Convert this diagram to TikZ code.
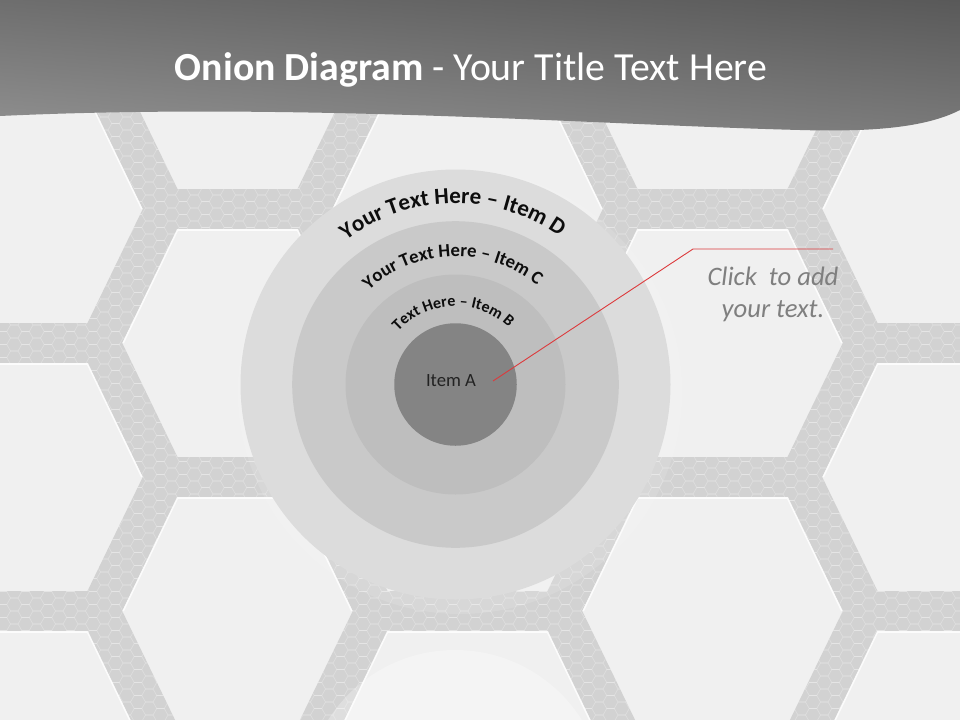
\documentclass[tikz,border=0pt]{standalone}
\usepackage{fontspec}
\setmainfont{Carlito}
\usetikzlibrary{calc,decorations.text,shadings}

\definecolor{tilec}{HTML}{F0F0F0}
\definecolor{barc}{HTML}{D2D2D2}
\definecolor{ringDc}{HTML}{DCDCDC}
\definecolor{ringCc}{HTML}{C9C9C9}
\definecolor{ringBc}{HTML}{BEBEBE}
\definecolor{coreAc}{HTML}{848484}
\definecolor{leaderc}{HTML}{DC3A3C}
\definecolor{hintc}{HTML}{7F7F7F}
\definecolor{labelc}{HTML}{0D0D0D}
\definecolor{itemc}{HTML}{222222}
\definecolor{bnTL}{HTML}{6E6E6E}
\definecolor{bnTR}{HTML}{595959}
\definecolor{bnBL}{HTML}{909090}
\definecolor{bnBR}{HTML}{7A7A7A}

% one bar of the hexagon lattice, as a filled quad (width 40)
\newcommand\barq[4]{%
 ($($(#1,#2)!-20pt!(#3,#4)$)!20pt!90:(#3,#4)$) --
 ($($(#3,#4)!-20pt!(#1,#2)$)!20pt!-90:(#1,#2)$) --
 ($($(#3,#4)!-20pt!(#1,#2)$)!20pt!90:(#1,#2)$) --
 ($($(#1,#2)!-20pt!(#3,#4)$)!20pt!-90:(#3,#4)$) -- cycle }
% six bars of one big hexagon: left x, top edge length, centre y
\newcommand\hexbars[3]{%
 \barq{#1}{#3}{#1+65}{#3-134}
 \barq{#1+65}{#3-134}{#1+65+#2}{#3-134}
 \barq{#1+65+#2}{#3-134}{#1+130+#2}{#3}
 \barq{#1+130+#2}{#3}{#1+65+#2}{#3+134}
 \barq{#1+65+#2}{#3+134}{#1+65}{#3+134}
 \barq{#1+65}{#3+134}{#1}{#3} }
\newcommand\hexlist{-125/160/-59, -125/160/209, -125/160/477, -125/160/745,
 100/145/75, 100/145/343, 100/145/611,
 310/185/-59, 310/185/209, 310/185/477, 310/185/745,
 560/175/75, 560/175/343, 560/175/611,
 800/175/-59, 800/175/209, 800/175/477, 800/175/745}

\tikzset{
  honey/.style={white, opacity=0.25, line width=0.7pt},
  hilite/.style={white, opacity=0.8, line width=1.6pt, line join=miter},
  ring/.style={circle, inner sep=0pt, draw=none},
  arctext/.style={decorate, decoration={text along path, text align=center, text color=labelc, text={#1}}},
  leader/.style={leaderc, line width=0.9pt},
  hint/.style={anchor=base, text=hintc, font=\itshape\fontsize{26.67}{32}\selectfont},
}

\begin{document}
\begin{tikzpicture}[x=1pt, y=-1pt]
\useasboundingbox (0,0) rectangle (960,720);
\clip (0,0) rectangle (960,720);

% background tiles
\fill[tilec] (0,0) rectangle (960,720);

% lattice bars with small honeycomb
\begin{scope}
  \clip \foreach \hx/\hl/\hy in \hexlist { \hexbars{\hx}{\hl}{\hy} };
  \fill[barc] (0,0) rectangle (960,720);
  \foreach \k in {0,...,112}{
    \draw[honey] ({-12+mod(\k,2)*11.25}, {\k*6.5})
      \foreach \i in {0,...,43}{ -- ++(7.5,0) -- ++(3.75,6.5) -- ++(7.5,0) -- ++(3.75,-6.5) };
  }
\end{scope}
% light edges along the upper sides of each tile
\foreach \hx/\hl/\hy in \hexlist {
  \draw[hilite] (\hx+23.2,\hy) -- (\hx+77.5,\hy-113) -- (\hx+52.5+\hl,\hy-113) -- (\hx+106.8+\hl,\hy);
}

% faint background discs
\fill[white, opacity=0.28] (455,800) circle[radius=150];
\fill[white, opacity=0.12] (460,392) circle[radius=222];

% title banner
\shade[upper left=bnTL, upper right=bnTR, lower left=bnBL, lower right=bnBR]
  (0,0) -- (960,0) -- (960,110) .. controls (925,128) and (870,132) .. (800,130)
  .. controls (600,125) and (300,102) .. (0,116) -- cycle;
\node[anchor=base, text=white, font=\fontsize{39.8}{46}\selectfont] (title) at (471,80)
  {\textbf{Onion Diagram} - Your Title Text Here};

% onion rings
\node[ring, fill=ringDc, minimum size=430] (ringD) at (455.5,384.5) {};
\node[ring, fill=ringCc, minimum size=326.6] (ringC) at (455.5,384.5) {};
\node[ring, fill=ringBc, minimum size=220] (ringB) at (455.5,384.5) {};
\node[ring, fill=coreAc, minimum size=122.5] (coreA) at (455.5,384.5) {};

% curved labels
\begin{scope}[y=1pt]
  \coordinate (oc) at (455.5,-384.5);
  \path[arctext={|\bfseries\fontsize{23}{27}\selectfont|Your Text Here – Item D}]
    (oc) ++(176:181) arc[start angle=176, end angle=6, radius=181];
  \path[arctext={|\bfseries\fontsize{18.67}{22}\selectfont|Your Text Here – Item C}]
    (oc) ++(176.5:128) arc[start angle=176.5, end angle=6.5, radius=128];
  \path[arctext={|\bfseries\fontsize{16}{19}\selectfont|Text Here – Item B}]
    (oc) ++(177:78) arc[start angle=177, end angle=7, radius=78];
\end{scope}

\node[text=itemc, font=\fontsize{18.67}{22}\selectfont] (itemA) at (451,381) {Item A};

% leader line and hint text
\coordinate (p0) at (493,381);
\coordinate (p1) at (693,249);
\coordinate (p2) at (833,249);
\draw[leader] (p0) -- (p1) -- (p2);
\node[hint] (hint1) at (773,285) {Click~ to add};
\node[hint] (hint2) at (773,317) {your text.};
\end{tikzpicture}
\end{document}
